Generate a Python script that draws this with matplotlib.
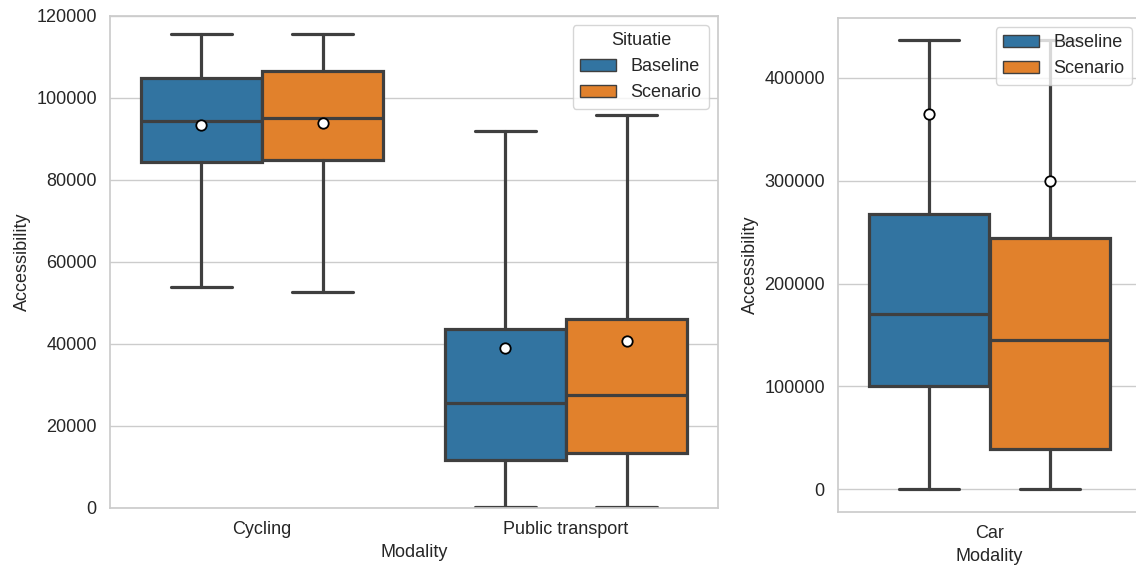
import matplotlib
matplotlib.use("Agg")
import matplotlib.pyplot as plt
import seaborn as sns
from matplotlib.patches import Patch

sns.set_theme(style="whitegrid")
plt.rcParams["font.family"] = ["Liberation Sans", "DejaVu Sans"]

# Summary statistics per modality and situation
situations = ["Baseline", "Scenario"]
colors = ["#3274a1", "#e1812c"]
line_color = "#3f3f3f"

left_modalities = ["Cycling", "Public transport"]
# [whislo, q1, median, q3, whishi, mean]
cycling_baseline = [54000, 84300, 94300, 104800, 115600, 93300]
cycling_scenario = [52800, 84800, 95000, 106500, 115600, 94000]
pt_baseline = [200, 11700, 25700, 43700, 92000, 39000]
pt_scenario = [200, 13300, 27600, 46200, 95800, 40700]

right_modalities = ["Car"]
car_baseline = [0, 100200, 170300, 267600, 437000, 364500]
car_scenario = [0, 38900, 145500, 244500, 437000, 300000]

FS = 13


def stats(v):
    return dict(whislo=v[0], q1=v[1], med=v[2], q3=v[3], whishi=v[4], mean=v[5], fliers=[])


def draw(ax, groups, names):
    width = 0.4
    for i, (b, s) in enumerate(groups):
        for j, (vals, col) in enumerate(zip((b, s), colors)):
            pos = i - width / 2 + j * width
            ax.bxp([stats(vals)], positions=[pos], widths=width * 0.995,
                   capwidths=width / 2, patch_artist=True, showmeans=True,
                   showfliers=False, manage_ticks=False,
                   boxprops=dict(facecolor=col, edgecolor=line_color, linewidth=2.3),
                   whiskerprops=dict(color=line_color, linewidth=2.3),
                   capprops=dict(color=line_color, linewidth=2.3),
                   medianprops=dict(color=line_color, linewidth=2.3),
                   meanprops=dict(marker="o", markerfacecolor="white",
                                  markeredgecolor="black", markersize=7.5,
                                  markeredgewidth=1.3))
    ax.set_xticks(range(len(names)))
    ax.set_xticklabels(names)
    ax.set_xlim(-0.5, len(names) - 0.5)
    ax.set_xlabel("Modality", fontsize=FS, color="#262626")
    ax.set_ylabel("Accessibility", fontsize=FS, color="#262626")
    ax.tick_params(labelsize=FS, colors="#262626")
    ax.grid(axis="x", visible=False)
    for sp in ax.spines.values():
        sp.set_color("#cccccc")


fig = plt.figure(figsize=(11.36, 5.70), dpi=100)
ax1 = fig.add_axes([110 / 1136, 1 - 508 / 570, 608 / 1136, 492 / 570])
ax2 = fig.add_axes([838 / 1136, 1 - 512 / 570, 303 / 1136, 494 / 570])

draw(ax1, [(cycling_baseline, cycling_scenario), (pt_baseline, pt_scenario)], left_modalities)
ax1.set_ylim(0, 120000)

draw(ax2, [(car_baseline, car_scenario)], right_modalities)
ax2.set_ylim(-22000, 458000)

handles = [Patch(facecolor=c, edgecolor=line_color, label=n) for c, n in zip(colors, situations)]
ax1.legend(handles=handles, title="Situatie", loc="upper right", fontsize=FS, title_fontsize=FS)
ax2.legend(handles=handles, loc="upper right", fontsize=FS)

fig.savefig("out.png", dpi=100)
